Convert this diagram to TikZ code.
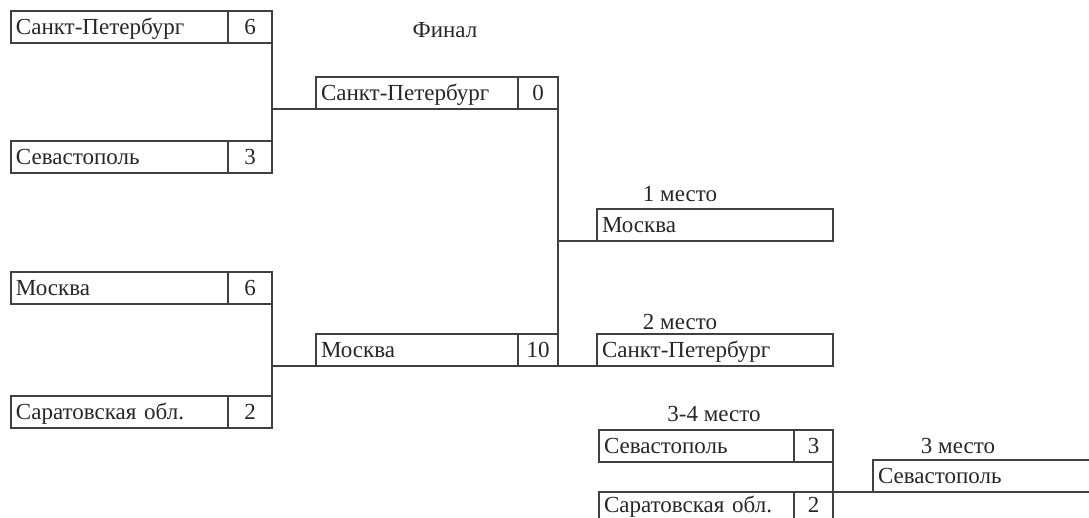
\documentclass[tikz,border=0pt]{standalone}
\usepackage{fontspec}
\setmainfont{Liberation Serif}
\begin{document}
\begin{tikzpicture}[x=1pt,y=-1pt,
  line/.style={draw=black!75, line width=1.2pt},
  cell/.style={line, rectangle, anchor=north west, minimum height=32pt, inner ysep=0pt, outer sep=0pt,
    font=\fontsize{23}{25}\selectfont, text height=15pt, text depth=0pt, text=black!85},
  team/.style={cell, text width=#1, inner xsep=5pt, align=left},
  score/.style={cell, minimum width=#1, inner xsep=0pt, align=center},
  lbl/.style={font=\fontsize{23}{25}\selectfont, text=black!85, inner sep=0pt, anchor=base}
]
\useasboundingbox (0,0) rectangle (1089,518);
\clip (0,0) rectangle (1089,518);
% semifinals
\node[team=207pt] (a1) at (11,11) {Санкт-Петербург};
\node[score=44pt] (a1s) at (a1.north east) {6};
\node[team=207pt] (a2) at (11,141) {Севастополь};
\node[score=44pt] (a2s) at (a2.north east) {3};
\node[team=207pt] (b1) at (11,272) {Москва};
\node[score=44pt] (b1s) at (b1.north east) {6};
\node[team=207pt] (b2) at (11,396) {Саратовская обл.};
\node[score=44pt] (b2s) at (b2.north east) {2};
% final
\node[lbl] (fin) at (445,38) {Финал};
\node[team=192pt] (f1) at (316,77) {Санкт-Петербург};
\node[score=40pt] (f1s) at (f1.north east) {0};
\node[team=192pt] (f2) at (316,334) {Москва};
\node[score=40pt] (f2s) at (f2.north east) {10};
% places
\node[lbl] (l1) at (680,202) {1 место};
\node[team=226pt] (p1) at (597,209) {Москва};
\node[lbl] (l2) at (680,330) {2 место};
\node[team=226pt] (p2) at (597,334) {Санкт-Петербург};
% 3-4 match
\node[lbl] (l34) at (714,421) {3-4 место};
\node[team=185pt] (t1) at (599,430) {Севастополь};
\node[score=39pt] (t1s) at (t1.north east) {3};
\node[team=185pt, text height=9pt] (t2) at (599,492) {Саратовская обл.};
\node[score=39pt, text height=9pt] (t2s) at (t2.north east) {2};
\node[lbl] (l3) at (958,453) {3 место};
\node[team=230pt] (p3) at (873,460) {Севастополь};
% connectors
\draw[line] (a1s.south east) -- (a2s.north east);
\draw[line] (a1s.south east |- f1.south west) -- (f1.south west);
\draw[line] (b1s.south east) -- (b2s.north east);
\draw[line] (b1s.south east |- f2.south west) -- (f2.south west);
\draw[line] (f1s.south east) -- (f2s.north east);
\draw[line] (f1s.south east |- p1.south west) -- (p1.south west);
\draw[line] (f2s.south east) -- (p2.south west);
\draw[line] (t1s.south east) -- (t2s.north east);
\draw[line] (t2s.north east) -- (p3.south west);
\end{tikzpicture}
\end{document}
